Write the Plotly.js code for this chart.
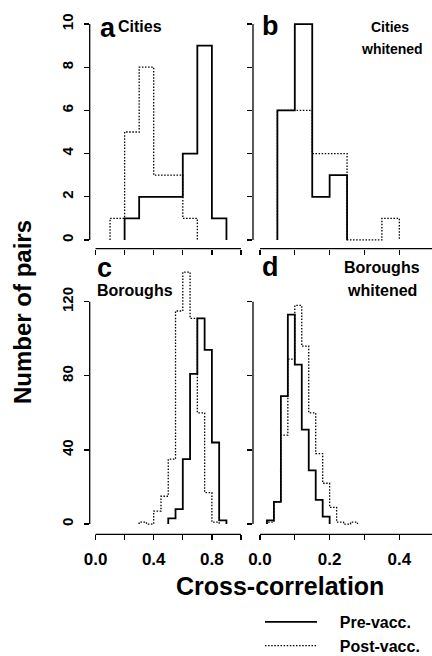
<!DOCTYPE html>
<html>
<head>
<meta charset="utf-8">
<script src="https://cdn.plot.ly/plotly-3.0.1.min.js"></script>
<style>html,body{margin:0;padding:0;background:#fff;}#chart{width:432px;height:656px;}</style>
</head>
<body>
<div id="chart"></div>
<script>
// ---- data ----
// panel a: Cities (bin edges and counts of pairs)
const citiesPreEdges   = [0.2, 0.3, 0.4, 0.5, 0.6, 0.7, 0.8, 0.9];
const citiesPreCounts  = [1, 2, 2, 2, 4, 9, 1];
const citiesPostEdges  = [0.1, 0.2, 0.3, 0.4, 0.5, 0.6, 0.7];
const citiesPostCounts = [1, 5, 8, 3, 3, 1];
// panel b: Cities whitened
const citiesWPreEdges   = [0.05, 0.10, 0.15, 0.20, 0.25];
const citiesWPreCounts  = [6, 10, 2, 3];
const citiesWPostEdges  = [0.05, 0.10, 0.15, 0.20, 0.25, 0.30, 0.35, 0.40];
const citiesWPostCounts = [6, 6, 4, 4, 0, 0, 1];
// panel c: Boroughs
const boroPreEdges   = [0.50, 0.55, 0.60, 0.65, 0.70, 0.75, 0.80, 0.85, 0.90];
const boroPreCounts  = [3, 8, 35, 81, 111, 94, 44, 2];
const boroPostEdges  = [0.30, 0.35, 0.40, 0.45, 0.50, 0.55, 0.60, 0.65, 0.70, 0.75, 0.80, 0.85];
const boroPostCounts = [1, 0, 7, 15, 35, 115, 136, 111, 60, 17, 1];
// panel d: Boroughs whitened
const boroWPreEdges   = [0.02, 0.04, 0.06, 0.08, 0.10, 0.12, 0.14, 0.16, 0.18, 0.20];
const boroWPreCounts  = [2, 12, 69, 113, 86, 51, 29, 13, 4];
const boroWPostEdges  = [0.02, 0.04, 0.06, 0.08, 0.10, 0.12, 0.14, 0.16, 0.18, 0.20, 0.22, 0.24, 0.26, 0.28];
const boroWPostCounts = [1, 12, 48, 89, 118, 96, 60, 38, 22, 9, 1, 0, 1];

// ticks
const xTicksLeft   = [0.0, 0.2, 0.4, 0.6, 0.8, 1.0];
const xLabelsLeft  = ['0.0', '', '0.4', '', '0.8', ''];
const xTicksRight  = [0.0, 0.1, 0.2, 0.3, 0.4, 0.5];
const xLabelsRight = ['0.0', '', '0.2', '', '0.4', ''];
const yTicksTop    = [0, 2, 4, 6, 8, 10];
const yLabelsTop   = ['0', '2', '4', '6', '8', '10'];
const yTicksBottom = [0, 40, 80, 120];
const yLabelsBottom= ['0', '40', '80', '120'];

const seriesNames = ['Pre-vacc.', 'Post-vacc.'];

// ---- drawing ----
const W = 432, H = 656;
const FONT = 'Liberation Sans, Arial, Helvetica, sans-serif';
const px = v => v / W;
const py = v => 1 - v / H;

function stepXY(edges, counts) {
  const xs = [edges[0]], ys = [0];
  for (let i = 0; i < counts.length; i++) {
    xs.push(edges[i], edges[i + 1]);
    ys.push(counts[i], counts[i]);
  }
  xs.push(edges[edges.length - 1]);
  ys.push(0);
  return {x: xs, y: ys};
}

const panels = [
  {xa: 'x',  ya: 'y',  pre: [citiesPreEdges, citiesPreCounts],   post: [citiesPostEdges, citiesPostCounts]},
  {xa: 'x2', ya: 'y2', pre: [citiesWPreEdges, citiesWPreCounts], post: [citiesWPostEdges, citiesWPostCounts]},
  {xa: 'x3', ya: 'y3', pre: [boroPreEdges, boroPreCounts],       post: [boroPostEdges, boroPostCounts]},
  {xa: 'x4', ya: 'y4', pre: [boroWPreEdges, boroWPreCounts],     post: [boroWPostEdges, boroWPostCounts]}
];

const pad = '&nbsp;&nbsp;&nbsp;&nbsp;';
const traces = [];
panels.forEach((p, i) => {
  const post = stepXY(p.post[0], p.post[1]);
  const pre = stepXY(p.pre[0], p.pre[1]);
  traces.push({type: 'scatter', mode: 'lines', x: post.x, y: post.y, xaxis: p.xa, yaxis: p.ya,
    name: pad + seriesNames[1], legendrank: 2, showlegend: i === 0, hoverinfo: 'skip',
    line: {color: '#000', width: 1.3, dash: '1.5px,1.6px'}});
  traces.push({type: 'scatter', mode: 'lines', x: pre.x, y: pre.y, xaxis: p.xa, yaxis: p.ya,
    name: pad + seriesNames[0], legendrank: 1, showlegend: i === 0, hoverinfo: 'skip',
    line: {color: '#000', width: 1.8}});
});

const xTickFont = {family: FONT, size: 17, color: '#000', weight: 'bold'};
const yTickFont = {family: FONT, size: 15, color: '#000', weight: 'bold'};
const rangeLeft = [-0.04, 1.04];
const rangeRight = [-0.02, 0.4938];
const rangeTop = [-0.4, 10.4];
const rangeBottom = [-5.6, 145.6];

function xAxis(domain, range, anchor, vals, text, show) {
  return {domain: domain, range: range, anchor: anchor, showgrid: false, zeroline: false, showline: false,
    ticks: 'outside', ticklen: 5, tickwidth: 1.3, tickcolor: '#000', tickvals: vals, ticktext: text,
    showticklabels: show, tickfont: xTickFont, ticklabelstandoff: 4, fixedrange: true, automargin: false};
}
function yAxis(domain, range, anchor, vals, text, show) {
  return {domain: domain, range: range, anchor: anchor, showgrid: false, zeroline: false, showline: false,
    ticks: 'outside', ticklen: 5, tickwidth: 1.3, tickcolor: '#000', tickvals: vals, ticktext: text,
    showticklabels: show, tickfont: yTickFont, tickangle: -90, ticklabelstandoff: 5, fixedrange: true, automargin: false};
}

const domLeft = [px(89.7), px(246.8)];
const domRight = [px(253), 1];
const domTop = [py(248.6), py(15.4)];
const domBottom = [py(534.4), py(254.3)];

// R-style axis lines spanning only first..last tick
const shapes = [];
function frac(v, r) { return (v - r[0]) / (r[1] - r[0]); }
function axisLines(xa, ya, xr, yr, xt, yt) {
  shapes.push({type: 'line', xref: xa + ' domain', yref: ya + ' domain',
    x0: frac(xt[0], xr), x1: frac(xt[xt.length - 1], xr), y0: 0, y1: 0, line: {color: '#000', width: 1.3}});
  shapes.push({type: 'line', xref: xa + ' domain', yref: ya + ' domain',
    x0: 0, x1: 0, y0: frac(yt[0], yr), y1: frac(yt[yt.length - 1], yr), line: {color: '#000', width: 1.3}});
}
axisLines('x', 'y', rangeLeft, rangeTop, xTicksLeft, yTicksTop);
axisLines('x2', 'y2', rangeRight, rangeTop, xTicksRight, yTicksTop);
axisLines('x3', 'y3', rangeLeft, rangeBottom, xTicksLeft, yTicksBottom);
axisLines('x4', 'y4', rangeRight, rangeBottom, xTicksRight, yTicksBottom);

function ann(text, x, y, size, xanchor, extra) {
  return Object.assign({xref: 'paper', yref: 'paper', x: px(x), y: py(y), text: text, showarrow: false,
    xanchor: xanchor, yanchor: 'middle', font: {family: FONT, size: size, color: '#000', weight: 'bold'}}, extra || {});
}

const annotations = [
  ann('a', 98, 28, 27, 'left'),
  ann('Cities', 116, 27, 16, 'left'),
  ann('b', 260, 26, 27, 'left'),
  ann('Cities', 390, 27, 14, 'center'),
  ann('whitened', 392, 49, 14, 'center'),
  ann('c', 95, 268, 27, 'left'),
  ann('Boroughs', 95, 290, 16, 'left'),
  ann('d', 260, 267, 27, 'left'),
  ann('Boroughs', 382, 268, 16, 'center'),
  ann('whitened', 382, 290, 16, 'center'),
  ann('Number of pairs', 22, 312, 24, 'center', {textangle: -90}),
  ann('Cross-correlation', 280, 586, 25, 'center')
];

const layout = {
  width: W, height: H,
  margin: {l: 0, r: 0, t: 0, b: 0, autoexpand: false},
  paper_bgcolor: '#fff', plot_bgcolor: 'rgba(0,0,0,0)',
  showlegend: true,
  legend: {x: px(260), y: py(605), xanchor: 'left', yanchor: 'top', bgcolor: 'rgba(0,0,0,0)',
    font: {family: FONT, size: 16, color: '#000', weight: 'bold'}, itemwidth: 52, tracegroupgap: 0},
  xaxis:  xAxis(domLeft, rangeLeft, 'y', xTicksLeft, xLabelsLeft, false),
  yaxis:  yAxis(domTop, rangeTop, 'x', yTicksTop, yLabelsTop, true),
  xaxis2: xAxis(domRight, rangeRight, 'y2', xTicksRight, xLabelsRight, false),
  yaxis2: yAxis(domTop, rangeTop, 'x2', yTicksTop, yLabelsTop, false),
  xaxis3: xAxis(domLeft, rangeLeft, 'y3', xTicksLeft, xLabelsLeft, true),
  yaxis3: yAxis(domBottom, rangeBottom, 'x3', yTicksBottom, yLabelsBottom, true),
  xaxis4: xAxis(domRight, rangeRight, 'y4', xTicksRight, xLabelsRight, true),
  yaxis4: yAxis(domBottom, rangeBottom, 'x4', yTicksBottom, yLabelsBottom, false),
  shapes: shapes,
  annotations: annotations
};

Plotly.newPlot('chart', traces, layout, {staticPlot: true, displayModeBar: false});
</script>
</body>
</html>
